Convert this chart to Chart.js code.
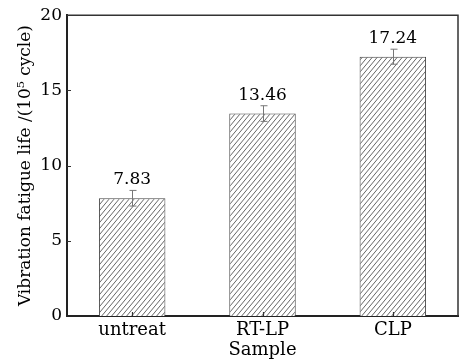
<!DOCTYPE html>
<html>
<head>
<meta charset="utf-8">
<script src="https://cdn.jsdelivr.net/npm/chart.js@4.4.0/dist/chart.umd.min.js"></script>
<style>
  html, body { margin: 0; padding: 0; background: #fff; }
  #wrap { width: 467px; height: 361px; }
</style>
</head>
<body>
<div id="wrap"><canvas id="chart"></canvas></div>
<script>
const samples = ['untreat', 'RT-LP', 'CLP'];
const lifeValues = [7.83, 13.46, 17.24];
const lifeErrors = [0.52, 0.52, 0.5];
const yTicks = [0, 5, 10, 15, 20];

const FONT = 'DejaVu Serif';

function makeHatch() {
  const c = document.createElement('canvas');
  c.width = 5;
  c.height = 6;
  const g = c.getContext('2d');
  g.fillStyle = '#fff';
  g.fillRect(0, 0, 5, 6);
  g.strokeStyle = '#555';
  g.lineWidth = 0.9;
  g.beginPath();
  g.moveTo(0, 6); g.lineTo(5, 0);
  g.moveTo(-5, 6); g.lineTo(0, 0);
  g.moveTo(5, 6); g.lineTo(10, 0);
  g.stroke();
  return g.createPattern(c, 'repeat');
}

// frame, inner ticks, error bars and value labels
const extras = {
  id: 'extras',
  afterDatasetsDraw(chart) {
    const { ctx, chartArea: a, scales: { x, y } } = chart;
    const meta = chart.getDatasetMeta(0);
    ctx.save();

    ctx.strokeStyle = '#777';
    ctx.lineWidth = 1;
    meta.data.forEach((bar, i) => {
      const cx = Math.round(bar.x) + 0.5;
      const yt = y.getPixelForValue(lifeValues[i] + lifeErrors[i]);
      const yb = y.getPixelForValue(lifeValues[i] - lifeErrors[i]);
      ctx.beginPath();
      ctx.moveTo(cx, yt); ctx.lineTo(cx, yb);
      ctx.moveTo(cx - 3, yt); ctx.lineTo(cx + 4, yt);
      ctx.moveTo(cx - 3, yb); ctx.lineTo(cx + 4, yb);
      ctx.stroke();

      ctx.fillStyle = '#000';
      ctx.font = '17px "' + FONT + '"';
      ctx.textAlign = 'center';
      ctx.textBaseline = 'alphabetic';
      ctx.fillText(lifeValues[i].toFixed(2), bar.x, yt - 6);
    });

    // ticks pointing inward
    ctx.strokeStyle = '#333';
    ctx.lineWidth = 1.2;
    ctx.beginPath();
    yTicks.slice(1, -1).forEach(v => {
      const py = Math.round(y.getPixelForValue(v)) + 0.5;
      ctx.moveTo(a.left, py); ctx.lineTo(a.left + 4, py);
    });
    samples.forEach((s, i) => {
      const px = Math.round(x.getPixelForValue(i)) + 0.5;
      ctx.moveTo(px, a.bottom); ctx.lineTo(px, a.bottom - 4);
    });
    ctx.stroke();

    // top and right frame
    ctx.strokeStyle = '#333';
    ctx.lineWidth = 1.5;
    ctx.beginPath();
    ctx.moveTo(a.left, a.top);
    ctx.lineTo(a.right, a.top);
    ctx.lineTo(a.right, a.bottom);
    ctx.stroke();
    ctx.restore();
  }
};

new Chart(document.getElementById('chart'), {
  type: 'bar',
  data: {
    labels: samples,
    datasets: [{
      data: lifeValues,
      backgroundColor: makeHatch(),
      borderColor: '#444',
      borderWidth: 1,
      categoryPercentage: 1,
      barPercentage: 0.51
    }]
  },
  options: {
    responsive: true,
    maintainAspectRatio: false,
    animation: false,
    layout: { padding: { top: 15, right: 9, left: 0, bottom: 0 } },
    plugins: {
      legend: { display: false },
      tooltip: { enabled: false }
    },
    scales: {
      x: {
        grid: { display: false, drawTicks: false },
        border: { display: true, color: '#222', width: 2 },
        ticks: {
          color: '#000',
          padding: 4,
          font: { family: FONT, size: 18 }
        },
        title: {
          display: true,
          text: 'Sample',
          color: '#000',
          font: { family: FONT, size: 18 },
          padding: { top: 0, bottom: 0 }
        },
        afterFit(scale) { scale.height = 45; }
      },
      y: {
        min: 0,
        max: 20,
        afterBuildTicks(scale) { scale.ticks = yTicks.map(v => ({ value: v })); },
        grid: { display: false, drawTicks: false },
        border: { display: true, color: '#222', width: 2 },
        ticks: {
          color: '#000',
          padding: 5,
          font: { family: FONT, size: 17 }
        },
        title: {
          display: true,
          text: 'Vibration fatigue life /(10\u2075 cycle)',
          color: '#000',
          font: { family: FONT, size: 17 },
          padding: { top: 15, bottom: 0 }
        },
        afterFit(scale) { scale.width = 67; }
      }
    }
  },
  plugins: [extras]
});
</script>
</body>
</html>
